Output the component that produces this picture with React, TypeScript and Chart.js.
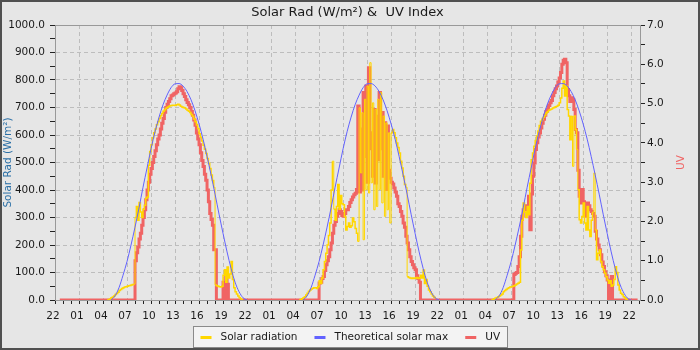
import { useEffect, useRef } from 'react';
import { Chart, registerables } from 'chart.js';

Chart.register(...registerables);

const FONT_FAMILY = '"DejaVu Sans", "Liberation Sans", sans-serif';
const PAGE_BG = '#e6e6e6';
const FRAME_COLOR = '#999999';
const GRID_COLOR = '#bdbdbd';
const TEXT_COLOR = '#1a1a1a';

// X values are hours counted from 22:00 on the first evening.
const FIRST_CLOCK_HOUR = 22;
const X_MIN = 0;
const X_MAX = 73.1;
const SOLAR_MAX = 1000;
const UV_MAX = 7;

// Midnight of each plotted day, in hours after the first 22:00.
const dayMidnights = [2, 26, 50];

// Daylight readings, one every 10 minutes from 04:30 to 21:30.
const READING_START = 4.5;
const READING_STEP = 1 / 6;

// Solar radiation (W/m²)
const solarDay1 = [
  0, 2, 4,
  8, 11, 15, 20, 24, 28,
  35, 38, 42, 45, 47, 48,
  50, 52, 53, 55, 56, 58,
  300, 340, 290, 355, 320, 300,
  330, 345, 370, 375, 490, 540,
  565, 590, 608, 622, 637, 648,
  660, 670, 678, 686, 692, 697,
  701, 704, 706, 707, 708, 708,
  707, 710, 712, 709, 705, 702,
  700, 698, 695, 690, 686, 682,
  675, 668, 658, 648, 636, 624,
  605, 592, 578, 563, 548, 533,
  515, 497, 478, 455, 435, 410,
  55, 52, 50, 48, 47, 50,
  90, 110, 65, 120, 80, 95,
  140, 75, 45, 30, 22, 15,
  8, 4, 0, 0,
];

const solarDay2 = [
  0, 2, 5,
  8, 12, 18, 25, 32, 36,
  40, 43, 45, 45, 42, 48,
  70, 60, 80, 110, 140, 170,
  200, 235, 280, 400, 505, 330,
  290, 340, 420, 330, 380, 350,
  346, 304, 255, 267, 280, 265,
  270, 298, 285, 260, 243, 213,
  699, 462, 681, 219, 730, 401,
  778, 389, 863, 426, 717, 328,
  693, 340, 730, 401, 754, 353,
  669, 304, 644, 328, 608, 280,
  608, 620, 608, 590, 571, 555,
  535, 505, 480, 450, 420, 410,
  85, 82, 80, 78, 80, 78,
  80, 82, 78, 80, 90, 80,
  109, 60, 75, 50, 36, 30,
  22, 15, 10, 5,
];

const solarDay3 = [
  0, 2, 5,
  7, 9, 12, 15, 18, 22,
  30, 35, 38, 42, 45, 47,
  48, 50, 52, 55, 58, 61,
  65, 182, 290, 353, 320, 300,
  340, 310, 425, 510, 535, 559,
  580, 596, 615, 635, 650, 656,
  665, 672, 680, 685, 690, 693,
  695, 698, 700, 703, 705, 708,
  717, 735, 770, 796, 742, 778,
  693, 669, 583, 669, 486, 669,
  620, 547, 401, 292, 280, 304,
  353, 280, 255, 340, 255, 231,
  290, 320, 462, 255, 146, 170,
  182, 140, 121, 110, 97, 85,
  73, 61, 70, 50, 55, 75,
  121, 100, 55, 36, 25, 20,
  12, 8, 4, 0,
];

// UV index
const uvDay1 = [
  0, 0, 0,
  0, 0, 0, 0, 0, 0,
  0, 0, 0, 0, 0, 0,
  0, 0, 0, 0, 0, 0,
  1.0, 1.2, 1.35, 1.55, 1.7, 1.9,
  2.1, 2.3, 2.55, 2.8, 3.0, 3.2,
  3.35, 3.5, 3.65, 3.8, 3.95, 4.1,
  4.2, 4.35, 4.5, 4.62, 4.78, 4.9,
  4.98, 5.05, 5.12, 5.2, 5.22, 5.25,
  5.27, 5.3, 5.38, 5.43, 5.4, 5.33,
  5.25, 5.18, 5.1, 5.03, 4.97, 4.9,
  4.8, 4.7, 4.58, 4.45, 4.25, 4.1,
  3.95, 3.75, 3.55, 3.4, 3.2, 3.05,
  2.8, 2.5, 2.2, 2.05, 1.9, 1.28,
  1.28, 0, 0, 0, 0, 0,
  0.45, 0, 0.6, 0.4, 0, 0,
  0, 0, 0, 0, 0, 0,
  0, 0, 0, 0,
];

const uvDay2 = [
  0, 0, 0,
  0, 0, 0, 0, 0, 0,
  0, 0, 0, 0, 0, 0,
  0.43, 0.45, 0.55, 0.6, 0.75, 0.9,
  1.0, 1.1, 1.28, 1.45, 1.7, 1.9,
  2.0, 2.13, 2.2, 2.3, 2.25, 2.15,
  2.13, 2.2, 2.3, 2.3, 2.38, 2.48,
  2.55, 2.62, 2.68, 2.72, 2.81, 4.94,
  2.75, 4.35, 2.8, 5.28, 3.65, 5.45,
  3.0, 5.91, 3.85, 4.26, 3.15, 4.85,
  2.98, 4.68, 3.57, 5.28, 3.85, 4.77,
  3.15, 4.51, 2.81, 4.43, 3.3, 3.1,
  3.0, 2.95, 2.85, 2.75, 2.64, 2.45,
  2.38, 2.25, 2.13, 1.96, 1.85, 1.62,
  1.45, 1.28, 1.1, 0.98, 0.9, 0.82,
  0.77, 0.62, 0.55, 0.45, 0, 0,
  0, 0, 0, 0, 0, 0,
  0, 0, 0, 0,
];

const uvDay3 = [
  0, 0, 0,
  0, 0, 0, 0, 0, 0,
  0, 0, 0, 0, 0, 0,
  0, 0, 0.65, 0.68, 0.7, 0.85,
  1.1, 1.62, 2.13, 2.3, 2.38, 2.4,
  2.3, 2.64, 1.79, 2.7, 3.15, 3.49,
  3.83, 4.0, 4.15, 4.25, 4.38, 4.5,
  4.6, 4.7, 4.8, 4.85, 4.95, 5.02,
  5.08, 5.2, 5.28, 5.38, 5.45, 5.55,
  5.65, 5.79, 6.0, 6.1, 6.13, 6.04,
  5.36, 5.2, 5.05, 5.15, 5.1, 4.85,
  4.34, 4.26, 3.3, 2.64, 2.47, 2.81,
  2.5, 2.2, 2.13, 2.47, 2.4, 2.3,
  2.25, 2.2, 2.13, 1.75, 1.55, 1.4,
  1.28, 1.15, 0.97, 0.85, 0.72, 0.62,
  0.51, 0, 0.43, 0.6, 0, 0,
  0, 0, 0, 0, 0, 0,
  0, 0, 0, 0,
];

// Theoretical clear-sky maximum (W/m²), every 30 minutes from 05:00 to 22:00.
const CLEAR_SKY_START = 5;
const CLEAR_SKY_STEP = 0.5;
const clearSkyMax = [
  0, 15, 45, 90, 140, 200, 265, 335, 410, 480, 550, 612, 665, 710, 745, 772,
  786, 787, 778, 758, 728, 688, 640, 585, 522, 455, 385, 312, 242, 175, 115,
  65, 30, 8, 0,
];

// The UV record runs from 22:36 on the first evening to 22:48 on the last.
const uvRecordStart = 0.6;
const uvRecordEnd = 72.8;

const seriesNames = ['Solar radiation', 'Theoretical solar max', 'UV'];
const seriesColors = ['#ffd700', '#6262ff', '#f06464'];

type Pt = { x: number; y: number | null };

// Daylight runs for each day, separated by gaps so the line breaks overnight.
function daylightRuns(days: number[][], start: number, step: number): Pt[] {
  const pts: Pt[] = [];
  days.forEach((vals, d) => {
    const base = dayMidnights[d] + start;
    vals.forEach((v, i) => pts.push({ x: base + i * step, y: v }));
    pts.push({ x: dayMidnights[d] + 23, y: null });
  });
  return pts;
}

// A continuous record: zero overnight between the daylight runs.
function continuousRecord(days: number[][], start: number, step: number): Pt[] {
  const pts: Pt[] = [{ x: uvRecordStart, y: 0 }];
  days.forEach((vals, d) => {
    const base = dayMidnights[d] + start;
    vals.forEach((v, i) => pts.push({ x: base + i * step, y: v }));
  });
  pts.push({ x: uvRecordEnd, y: 0 });
  return pts;
}

function hourLabel(v: number): string {
  const h = (((FIRST_CLOCK_HOUR + v) % 24) + 24) % 24;
  return String(h).padStart(2, '0');
}

const isNear = (a: number, b: number) => Math.abs(a - b) < 1e-6;

const decorations = {
  id: 'decorations',
  beforeDraw(chart: any) {
    const { ctx, width, height } = chart;
    ctx.save();
    ctx.fillStyle = PAGE_BG;
    ctx.fillRect(0, 0, width, height);
    ctx.restore();
  },
  afterDraw(chart: any) {
    const { ctx, chartArea: a, width, height } = chart;
    ctx.save();

    // top edge of the plot frame
    ctx.strokeStyle = FRAME_COLOR;
    ctx.lineWidth = 1;
    ctx.beginPath();
    ctx.moveTo(a.left, Math.round(a.top) + 0.5);
    ctx.lineTo(a.right, Math.round(a.top) + 0.5);
    ctx.stroke();

    // chart title
    ctx.fillStyle = TEXT_COLOR;
    ctx.font = `13px ${FONT_FAMILY}`;
    ctx.textAlign = 'center';
    ctx.textBaseline = 'alphabetic';
    ctx.fillText('Solar Rad (W/m²) &  UV Index', (a.left + a.right) / 2, 16);

    // right axis title, reading bottom to top
    ctx.save();
    ctx.translate(a.right + 41, (a.top + a.bottom) / 2);
    ctx.rotate(-Math.PI / 2);
    ctx.fillStyle = seriesColors[2];
    ctx.font = `10.5px ${FONT_FAMILY}`;
    ctx.textAlign = 'center';
    ctx.textBaseline = 'middle';
    ctx.fillText('UV', 0, 0);
    ctx.restore();

    // legend box
    ctx.font = `10.5px ${FONT_FAMILY}`;
    const markerW = 11;
    const markerGap = 9;
    const itemGap = 17;
    const padX = 7;
    const widths = chart.data.datasets.map((ds: any) => ctx.measureText(ds.label).width);
    const contentW =
      widths.reduce((s: number, w: number) => s + markerW + markerGap + w, 0) +
      itemGap * (widths.length - 1);
    const boxW = Math.round(contentW + padX * 2);
    const boxH = 21;
    const boxX = Math.round(width / 2 - boxW / 2) + 0.5;
    const boxY = 326.5;
    ctx.fillStyle = '#f3f3f3';
    ctx.fillRect(boxX, boxY, boxW, boxH);
    ctx.strokeStyle = '#8a8a8a';
    ctx.lineWidth = 1;
    ctx.strokeRect(boxX, boxY, boxW, boxH);
    let x = boxX + padX;
    const cy = boxY + boxH / 2;
    chart.data.datasets.forEach((ds: any, i: number) => {
      ctx.fillStyle = ds.borderColor;
      ctx.fillRect(x, Math.round(cy) - 1, markerW, 3);
      x += markerW + markerGap;
      ctx.fillStyle = TEXT_COLOR;
      ctx.textAlign = 'left';
      ctx.textBaseline = 'middle';
      ctx.fillText(ds.label, x, cy);
      x += widths[i] + itemGap;
    });

    // outer frame
    ctx.strokeStyle = '#505050';
    ctx.lineWidth = 2;
    ctx.strokeRect(1, 1, width - 2, height - 2);
    ctx.restore();
  },
};

export default function App() {
  const canvasRef = useRef<HTMLCanvasElement | null>(null);

  useEffect(() => {
    document.body.style.margin = '0';
    const canvas = canvasRef.current;
    if (!canvas) return;

    const solarPts = daylightRuns([solarDay1, solarDay2, solarDay3], READING_START, READING_STEP);
    const clearPts = daylightRuns([clearSkyMax, clearSkyMax, clearSkyMax], CLEAR_SKY_START, CLEAR_SKY_STEP);
    const uvPts = continuousRecord([uvDay1, uvDay2, uvDay3], READING_START, READING_STEP);

    const tickFont = { family: FONT_FAMILY, size: 10.5 };

    const chart = new Chart(canvas, {
      type: 'line',
      data: {
        datasets: [
          {
            label: seriesNames[0],
            data: solarPts,
            yAxisID: 'y',
            borderColor: seriesColors[0],
            borderWidth: 1.5,
            stepped: true,
            pointRadius: 0,
            order: 2,
            // rapid swings under broken cloud are drawn with a finer pen
            segment: {
              borderWidth: (ctx: any) =>
                Math.abs(ctx.p1.parsed.y - ctx.p0.parsed.y) > 120 ? 1 : 1.5,
            },
          },
          {
            label: seriesNames[1],
            data: clearPts,
            yAxisID: 'y',
            borderColor: seriesColors[1],
            borderWidth: 1,
            cubicInterpolationMode: 'monotone',
            pointRadius: 0,
            order: 1,
          },
          {
            label: seriesNames[2],
            data: uvPts,
            yAxisID: 'y1',
            borderColor: seriesColors[2],
            borderWidth: 3,
            stepped: true,
            pointRadius: 0,
            order: 3,
          },
        ],
      } as any,
      options: {
        responsive: false,
        animation: false,
        devicePixelRatio: 1,
        events: [],
        layout: { padding: { top: 25, left: 0, right: 0, bottom: 0 } },
        plugins: {
          legend: { display: false },
          title: { display: false },
          tooltip: { enabled: false },
        },
        scales: {
          x: {
            type: 'linear',
            min: X_MIN,
            max: X_MAX,
            afterFit: (scale: any) => {
              scale.height = 50;
            },
            ticks: {
              stepSize: 1,
              autoSkip: false,
              includeBounds: false,
              maxRotation: 0,
              padding: 6,
              labelOffset: -2,
              color: TEXT_COLOR,
              font: tickFont,
              callback: (value: any) => {
                const v = Number(value);
                if (!isNear(v, Math.round(v))) return '';
                const r = Math.round(v);
                return r % 3 === 0 ? hourLabel(r) : '';
              },
            },
            grid: {
              drawOnChartArea: true,
              tickLength: 4,
              tickColor: '#222222',
              lineWidth: 1,
              color: (ctx: any) => {
                const v = ctx.tick ? ctx.tick.value : NaN;
                const r = Math.round(v);
                return isNear(v, r) && r % 3 === 0 && r > X_MIN && r < X_MAX ? GRID_COLOR : 'rgba(0,0,0,0)';
              },
            },
            border: { display: true, color: FRAME_COLOR, width: 1, dash: [4, 3] },
          },
          y: {
            type: 'linear',
            position: 'left',
            min: 0,
            max: SOLAR_MAX,
            afterFit: (scale: any) => {
              scale.width = 55;
            },
            ticks: {
              stepSize: 50,
              autoSkip: false,
              padding: 5,
              color: TEXT_COLOR,
              font: tickFont,
              callback: (value: any) => (Number(value) % 100 === 0 ? Number(value).toFixed(1) : ''),
            },
            grid: {
              tickLength: 5,
              tickColor: '#222222',
              color: (ctx: any) => {
                const v = ctx.tick ? ctx.tick.value : NaN;
                return v % 100 === 0 && v > 0 && v < SOLAR_MAX ? GRID_COLOR : 'rgba(0,0,0,0)';
              },
            },
            border: { display: true, color: FRAME_COLOR, width: 1, dash: [4, 3] },
            title: {
              display: true,
              text: 'Solar Rad (W/m²)',
              color: '#2a6fa6',
              font: { family: FONT_FAMILY, size: 10.5 },
              padding: { top: 2, bottom: 0 },
            },
          },
          y1: {
            type: 'linear',
            position: 'right',
            min: 0,
            max: UV_MAX,
            afterFit: (scale: any) => {
              scale.width = 60;
            },
            ticks: {
              stepSize: 0.5,
              autoSkip: false,
              padding: 2,
              color: TEXT_COLOR,
              font: tickFont,
              callback: (value: any) => (Number.isInteger(Number(value)) ? Number(value).toFixed(1) : ''),
            },
            grid: {
              drawOnChartArea: false,
              tickLength: 5,
              tickColor: '#222222',
            },
            border: { display: true, color: FRAME_COLOR, width: 1 },
          },
        },
      } as any,
      plugins: [decorations],
    });

    return () => chart.destroy();
  }, []);

  return (
    <canvas
      ref={canvasRef}
      width={700}
      height={350}
      style={{ display: 'block', width: 700, height: 350 }}
    />
  );
}
